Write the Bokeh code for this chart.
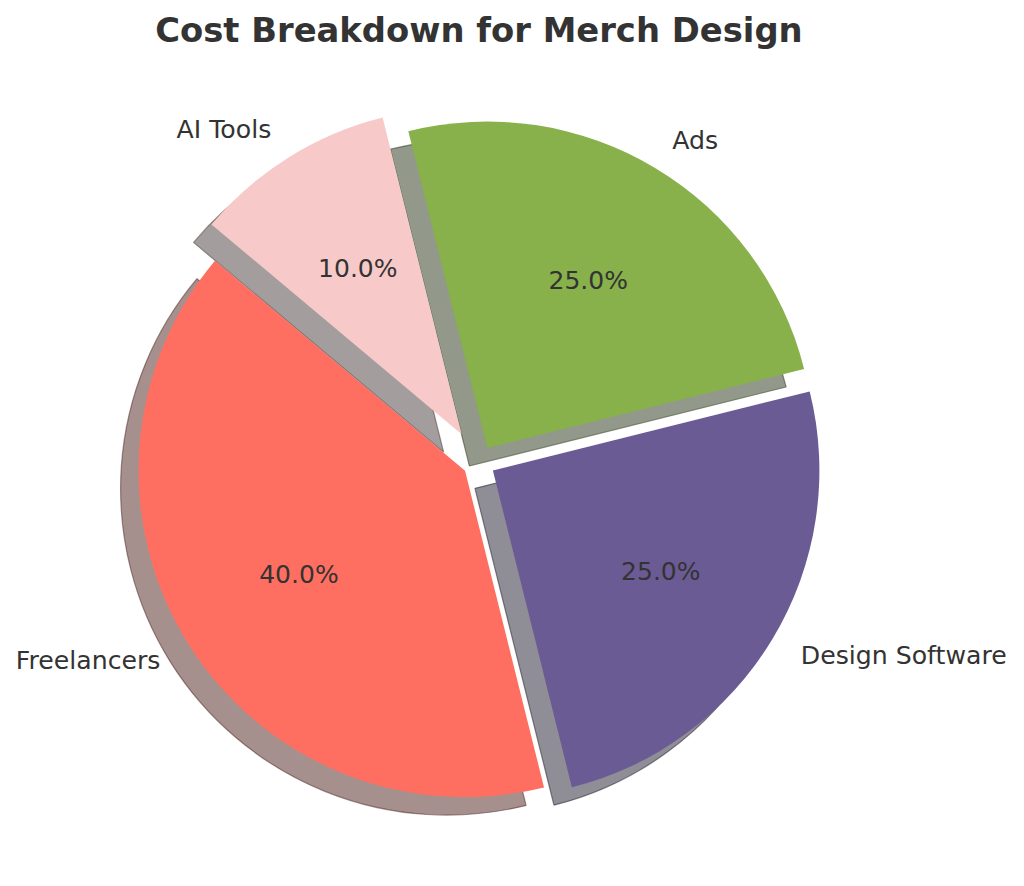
import numpy as np
from bokeh.plotting import figure
from bokeh.models import Range1d, ColumnDataSource
from bokeh.core.properties import value
from bokeh.embed import file_html
from bokeh.resources import INLINE

# ---- data ----
labels = ["Freelancers", "Design Software", "Ads", "AI Tools"]
sizes = [40, 25, 25, 10]
colors = ["#FF6F61", "#6B5B95", "#88B04B", "#F7CAC9"]
explode = [0.05, 0.05, 0.05, 0.1]
start_angle_deg = 140
title_text = "Cost Breakdown for Merch Design"

# ---- layout ----
W, H = 1016, 878
R_PX = 326.5          # pixels per unit radius
CX, CY = 478.4, 461.5 # pie centre in figure pixels (from top-left)
SHADOW = 0.055
TEXT = "#333333"
FONT = value("DejaVu Sans")

fracs = np.array(sizes, dtype=float) / sum(sizes)
t1 = np.deg2rad(start_angle_deg) + 2 * np.pi * np.concatenate([[0.0], np.cumsum(fracs)[:-1]])
t2 = t1 + 2 * np.pi * fracs
mid = (t1 + t2) / 2
ex = np.array(explode)
cx = ex * np.cos(mid)
cy = ex * np.sin(mid)


def shade(hexcol, f=0.3):
    h = hexcol.lstrip("#")
    r, g, b = (int(h[i:i + 2], 16) for i in (0, 2, 4))
    return "#%02x%02x%02x" % (int(r * f), int(g * f), int(b * f))


shadow_colors = [shade(c) for c in colors]

p = figure(width=W, height=H, output_backend="svg", toolbar_location=None,
           x_range=Range1d(-CX / R_PX, (W - CX) / R_PX),
           y_range=Range1d(-(H - CY) / R_PX, CY / R_PX),
           min_border=0, match_aspect=False)
p.axis.visible = False
p.grid.visible = False
p.outline_line_color = None
p.background_fill_color = "white"
p.border_fill_color = "white"

src = ColumnDataSource(dict(x=cx, y=cy, sx=cx - SHADOW, sy=cy - SHADOW,
                            t1=t1, t2=t2, color=colors, scolor=shadow_colors))

# shadows
p.wedge(x="sx", y="sy", radius=1.0, start_angle="t1", end_angle="t2",
        direction="anticlock", fill_color="scolor", fill_alpha=0.5,
        line_color="scolor", line_alpha=0.5, line_width=1.2, source=src)
# wedges
p.wedge(x="x", y="y", radius=1.0, start_angle="t1", end_angle="t2",
        direction="anticlock", fill_color="color", line_color=None, source=src)

# outer labels
lx = cx + 1.1 * np.cos(mid)
ly = cy + 1.1 * np.sin(mid)
for align in ("left", "right"):
    idx = [i for i in range(len(labels)) if (lx[i] > 0) == (align == "left")]
    if not idx:
        continue
    p.text(x=[lx[i] for i in idx], y=[ly[i] for i in idx],
           text=[labels[i] for i in idx], text_align=align,
           text_baseline="middle", text_font=FONT, text_font_size="25.2px",
           text_color=TEXT)

# percentage labels
px_ = cx + 0.6 * np.cos(mid)
py_ = cy + 0.6 * np.sin(mid)
p.text(x=px_, y=py_, text=["%.1f%%" % s for s in sizes], text_align="center",
       text_baseline="middle", text_font=FONT, text_font_size="25px",
       text_color=TEXT)

# title
p.text(x=[0.0], y=[(CY - 30) / R_PX], text=[title_text], text_align="center",
       text_baseline="middle", text_font=FONT, text_font_size="33.8px",
       text_font_style="bold", text_color=TEXT)

open("out.html", "w").write(file_html(p, INLINE))
